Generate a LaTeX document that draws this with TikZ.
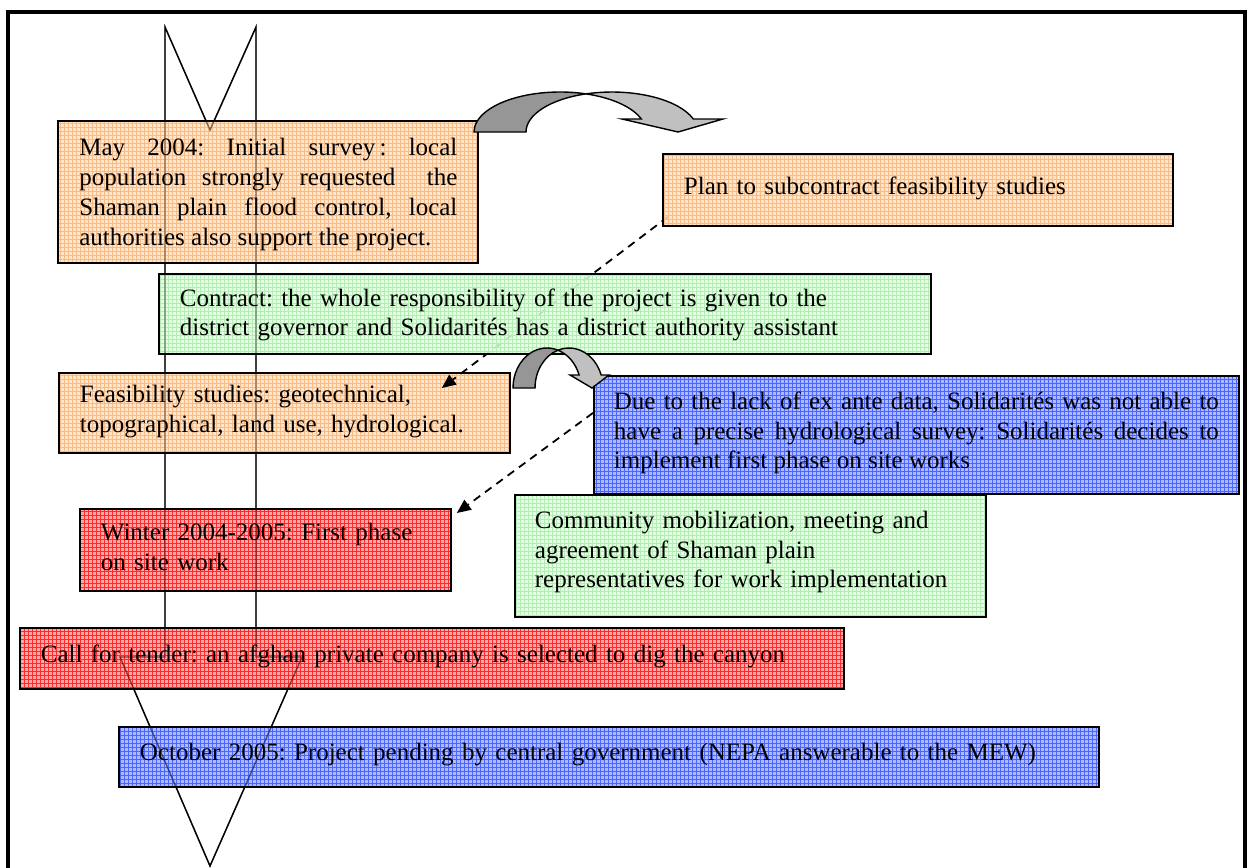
\documentclass[tikz,border=0pt]{standalone}
\usepackage{fontspec}
\setmainfont{Liberation Serif}
\usetikzlibrary{arrows.meta,patterns.meta}
\definecolor{peachfill}{HTML}{FFE0C2}
\definecolor{peachline}{HTML}{F7BC85}
\definecolor{greenfill}{HTML}{DDFFDD}
\definecolor{greenline}{HTML}{B5EBB5}
\definecolor{bluefill}{HTML}{A0AEFF}
\definecolor{blueline}{HTML}{4A66FF}
\definecolor{redfill}{HTML}{FF9999}
\definecolor{redline}{HTML}{FF2A2A}
\definecolor{darkbend}{HTML}{969696}
\definecolor{lightbend}{HTML}{C0C0C0}
\pgfdeclarelayer{under}
\pgfdeclarelayer{lower}
\pgfdeclarelayer{links}
\pgfsetlayers{under,lower,links,main}
\frenchspacing
\tikzset{
  tbox/.style={draw,line width=0.9pt,anchor=north west,inner xsep=10.5pt,inner ysep=0pt,
    text height=17pt,align=left,fill opacity=0.85,text opacity=1,
    font=\fontsize{12.5}{14.75}\selectfont},
  gridfill/.style 2 args={preaction={fill=#1},
    pattern={Hatch[angle=0,distance=2pt,line width=0.35pt]},pattern color=#2},
  peach/.style={gridfill={peachfill}{peachline}},
  mint/.style={gridfill={greenfill}{greenline}},
  sky/.style={gridfill={bluefill}{blueline}},
  rose/.style={gridfill={redfill}{redline}},
  link/.style={line width=0.9pt,dash pattern=on 4pt off 3pt,-{Triangle[length=7pt,width=6pt]}},
  bendarrow/.style={draw=black,line width=0.7pt},
  spine/.style={line width=0.7pt}
}
\def\spinepath{(165,27)--(210,130)--(256,27)--(256,657)--(302,657)--(210,866)--(120,657)--(165,657)--cycle}
\begin{document}
\begin{tikzpicture}[x=0.5pt,y=-0.5pt]
\useasboundingbox (0,0) rectangle (1251,867);
\draw[line width=2pt](8,880)--(8,12)--(1245,12)--(1245,880);
\begin{pgfonlayer}{under}
\draw[spine]\spinepath;
\end{pgfonlayer}
\begin{pgfonlayer}{lower}
\node[tbox,peach,text width=189pt,text depth=54pt,align=justify,font=\fontsize{12.5}{15}\selectfont] (may) at (58,121)
  {May 2004: Initial survey\,: local\linebreak population strongly requested~ the\linebreak Shaman plain flood control, local\linebreak authorities also support the project.};
\node[tbox,peach,text width=204.5pt,text height=15pt,text depth=25pt] (feas) at (58,372)
  {Feasibility studies: geotechnical,\\topographical, land use, hydrological.};
\node[tbox,rose,text width=164.5pt,text height=16pt,text depth=25pt] (winter) at (79,508)
  {Winter 2004-2005: First phase\\on site work};
\node[tbox,rose,text width=391pt,text height=17.5pt,text depth=13pt] (call) at (19,627)
  {Call for tender: an afghan private company is selected to dig the canyon};
\node[tbox,sky,text width=469pt,text depth=13pt] (oct) at (118,726)
  {October 2005: Project pending by central government (NEPA answerable to the MEW)};
\end{pgfonlayer}
\node[tbox,peach,text width=234pt,text height=20.5pt,text depth=15.5pt] (plan) at (662,153)
  {Plan to subcontract feasibility studies};
\node[tbox,sky,inner xsep=10pt,text width=302.5pt,text depth=42pt,align=justify] (due) at (593,375)
  {Due to the lack of ex ante data, Solidarités was not able to\linebreak have a precise hydrological survey: Solidarités decides to\linebreak implement first phase on site works};
\node[tbox,mint,inner xsep=10pt,text width=215.5pt,text depth=44pt] (comm) at (514,494)
  {Community mobilization, meeting and\\agreement of Shaman plain\\representatives for work implementation};
\begin{pgfonlayer}{links}
\draw[link]([shift={(6,-10)}]plan.south west)--([shift={(-69,16)}]feas.north east);
\draw[link]([shift={(0,-22)}]due.west)--([shift={(5,5)}]winter.north east);
\end{pgfonlayer}
\node[tbox,mint,text width=365pt,text height=16.25pt,text depth=23.75pt] (contract) at (158,273)
  {Contract: the whole responsibility of the project is given to the\\district governor and Solidarités has a district authority assistant};
\draw[spine,draw opacity=0.45]\spinepath;
\filldraw[bendarrow,fill=darkbend](474,132) arc[start angle=180,end angle=287.6,x radius=86,y radius=40]
  arc[start angle=252.4,end angle=180,x radius=86,y radius=40]--cycle;
\filldraw[bendarrow,fill=lightbend](586,93.9) arc[start angle=252.4,end angle=341,x radius=86,y radius=40]
  --(723,119)--(678,132)--(622,119)--(641.3,119)
  arc[start angle=341,end angle=287.6,x radius=86,y radius=40]--cycle;
\filldraw[bendarrow,fill=darkbend](513,388) arc[start angle=180,end angle=288.9,x radius=34,y radius=40]
  arc[start angle=251.1,end angle=180,x radius=34,y radius=40]--cycle;
\filldraw[bendarrow,fill=lightbend](558,350.2) arc[start angle=251.1,end angle=341,x radius=34,y radius=40]
  --(609,375)--(592,388)--(570,375)--(579.1,375)
  arc[start angle=341,end angle=288.9,x radius=34,y radius=40]--cycle;
\end{tikzpicture}
\end{document}
